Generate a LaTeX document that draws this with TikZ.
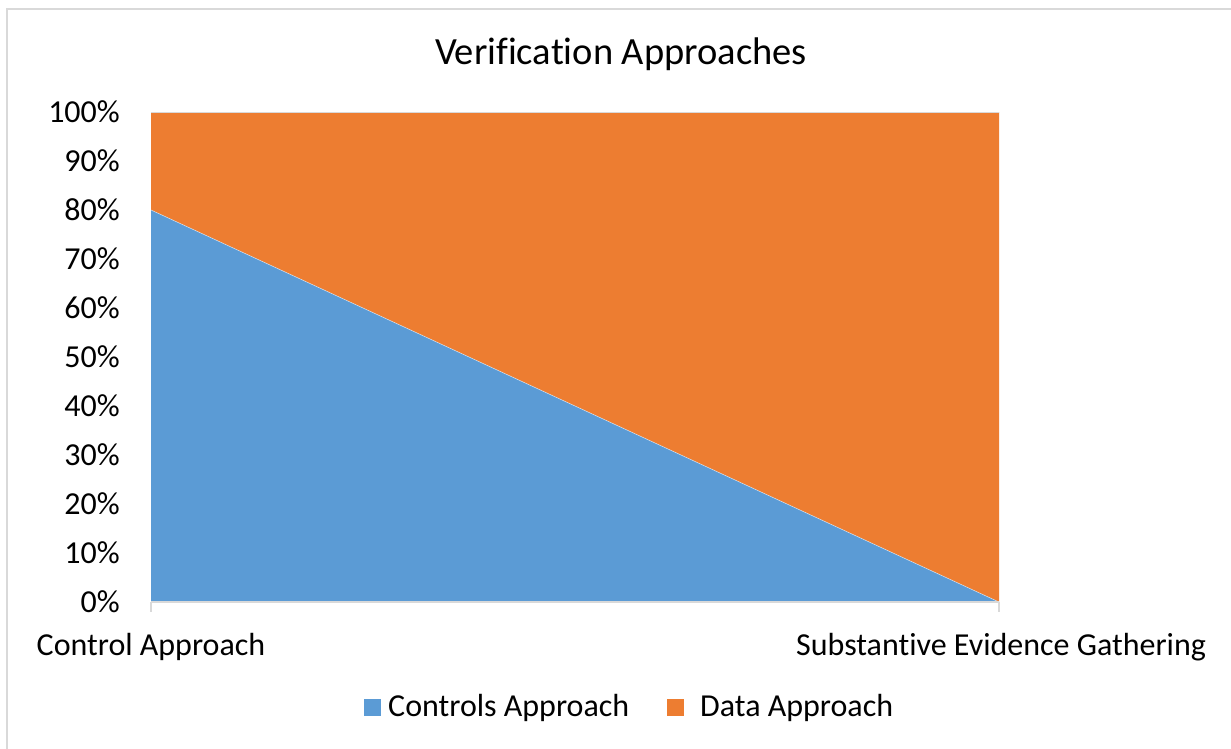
\documentclass[tikz,border=0pt]{standalone}
\usepackage{fontspec}
\setmainfont{Carlito}[Ligatures={NoCommon,NoRequired,NoContextual},RawFeature={-liga;-clig;-dlig}]
\definecolor{ctrlblue}{HTML}{5B9BD5}
\definecolor{dataorange}{HTML}{ED7D31}
\definecolor{framegray}{HTML}{D9D9D9}
\begin{document}
\begin{tikzpicture}[x=1pt,y=-1pt,
  lbl/.style={font=\fontsize{32}{37}\selectfont, inner sep=0pt},
  ttl/.style={font=\fontsize{38.5}{44}\selectfont, inner sep=0pt},
  axisline/.style={draw=framegray, line width=2pt},
  swatch/.style={minimum size=17pt, inner sep=0pt}]
  \useasboundingbox (0,0) rectangle (1231,748);
  \fill[white] (0,0) rectangle (1231,748);
  % chart frame (top and left edges visible)
  \draw[framegray, line width=1.5pt] (7,760) -- (7,9) -- (1240,9);

  % plot area corners
  \coordinate (p00) at (151,602);
  \coordinate (p10) at (999,602);
  \coordinate (p01) at (151,112);
  \coordinate (p11) at (999,112);
  \coordinate (p80) at (151,210);

  % stacked areas
  \fill[dataorange] (p01) -- (p11) -- (p10) -- (p80) -- cycle;
  \fill[ctrlblue] (p00) -- (p80) -- (p10) -- cycle;
  \draw[white, opacity=0.6, line width=0.6pt] (p80) -- (p10);
  \draw[framegray, line width=1pt] (p01) -- (p11);

  % category axis with tick marks
  \draw[axisline] (p00) -- (p10);
  \coordinate (t0) at (151,612);
  \coordinate (t1) at (999,612);
  \draw[axisline] (p00) -- (t0);
  \draw[axisline] (p10) -- (t1);

  % title (kerns keep f-i and t-i as separate letters)
  \node[ttl, anchor=base] (title) at (621,64) {Verif\kern0pt ication Approaches};

  % value axis labels
  \foreach \v in {0,10,...,100} {
    \node[lbl, anchor=base east] (y\v) at (120,{602-4.9*\v+10.5}) {\v\%};
  }

  % category labels
  \node[lbl, anchor=base] (cat1) at (151,655) {Control Approach};
  \node[lbl, anchor=base] (cat2) at (1001,655) {Substant\kern0pt ive Evidence Gathering};

  % legend
  \node[swatch, fill=ctrlblue] (sw1) at (372,707) {};
  \node[lbl, anchor=base west] (leg1) at (388,716) {Controls Approach};
  \node[swatch, fill=dataorange] (sw2) at (675,707) {};
  \node[lbl, anchor=base west] (leg2) at (700,716) {Data Approach};
\end{tikzpicture}
\end{document}
